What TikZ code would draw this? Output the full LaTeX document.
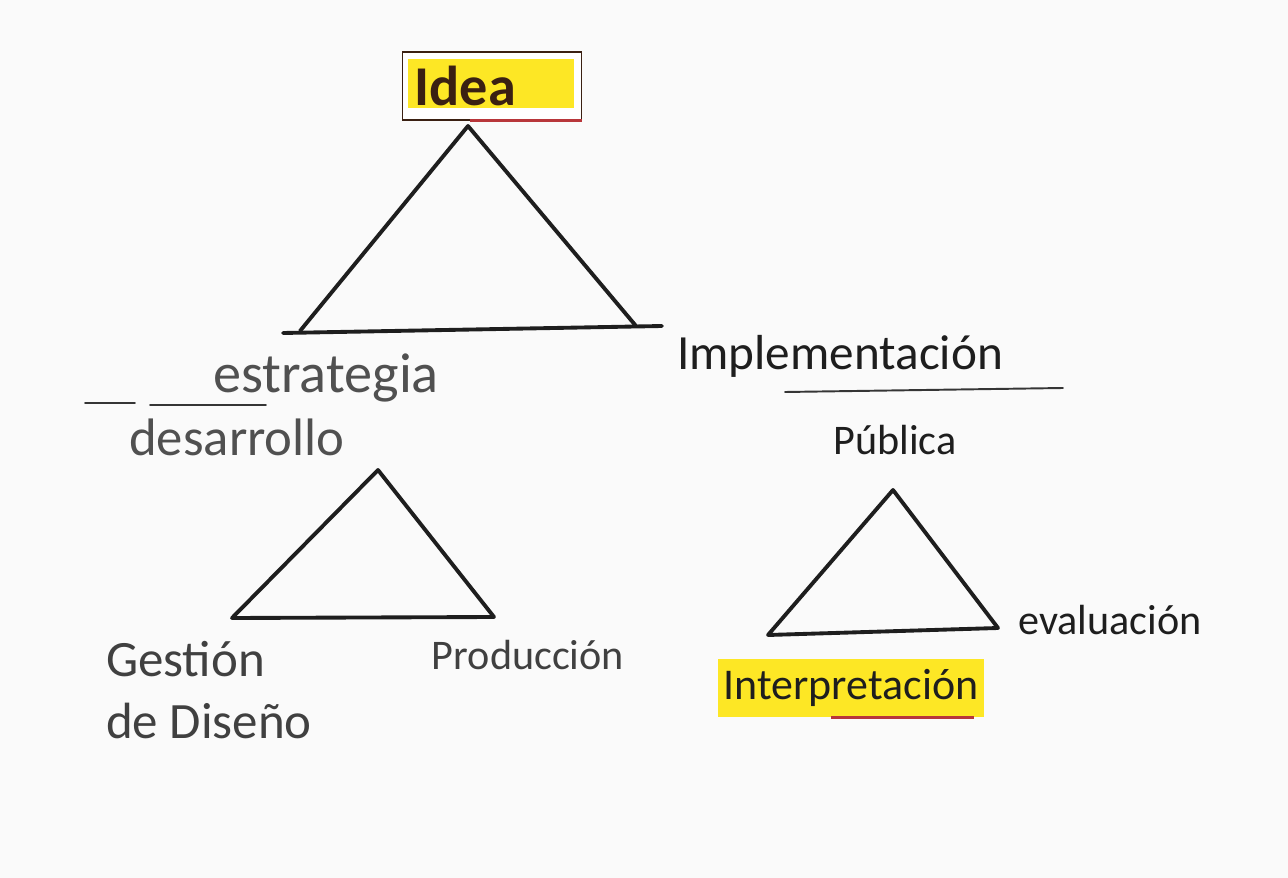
\documentclass[tikz,border=0pt]{standalone}
\usepackage{fontspec}
\setmainfont{Carlito}
\definecolor{ink}{HTML}{505050}
\definecolor{pen}{HTML}{1E1E1E}
\definecolor{marker}{HTML}{FDE725}
\definecolor{redpen}{HTML}{B8363A}
\definecolor{brownink}{HTML}{3A2012}
\newcommand{\sz}[1]{\fontsize{#1}{#1}\selectfont}
\begin{document}
\begin{tikzpicture}[x=0.02cm, y=-0.02cm,
    word/.style={text=ink, font=\sz{28}, inner sep=1pt},
    side/.style={draw=pen, line width=2.2pt, line cap=round, line join=round},
    rule/.style={draw=pen!90, line width=1.1pt, line cap=round},
    ideabox/.style={draw=brownink, line width=0.9pt, fill=white, minimum width=3.58cm, minimum height=1.36cm, text width=3.1cm, align=left,
        path picture={\fill[marker] ([xshift=3pt,yshift=7pt]path picture bounding box.south west) rectangle ([xshift=-4pt,yshift=-4pt]path picture bounding box.north east);}}
]
    % paper
    \fill[gray!4] (0,0) rectangle (1288,878);
    \useasboundingbox (0,0) rectangle (1288,878);

    % Top idea
    \node[ideabox, font=\sz{32}\bfseries, text=brownink] (idea) at (492,86) {Idea};
    \draw[redpen, line width=1.6pt] ([xshift=-0.45cm]idea.south) -- (idea.south east);

    % Big triangle
    \coordinate (apexA) at (468,126);
    \coordinate (leftA) at (300,331);
    \coordinate (rightA) at (636,326);
    \coordinate (baseAl) at (283,333);
    \coordinate (baseAr) at (662,326);
    \draw[side] (leftA) -- (apexA) -- (rightA);
    \draw[side] (baseAl) -- (baseAr);

    % Left branch
    \node[word, font=\sz{32}] (estr) at (326,378) {estrategia};
    \node[word, font=\sz{30}] (desa) at (237,437) {desarrollo};
    \coordinate (ruleL1) at (85,403);
    \coordinate (ruleL2) at (135,403);
    \coordinate (ruleL3) at (150,405);
    \coordinate (ruleL4) at (266,405);
    \draw[rule] (ruleL1) -- (ruleL2);
    \draw[rule] (ruleL3) -- (ruleL4);

    % Right branch
    \node[word, text=pen] (impl) at (840,356) {Implementación};
    \node[word, text=pen, font=\sz{24}] (publ) at (895,440) {Pública};
    \coordinate (ruleR1) at (785,392);
    \coordinate (ruleR2) at (1063,388);
    \draw[rule] (ruleR1) -- (ruleR2);

    % Left small triangle
    \coordinate (apexB) at (378,470);
    \coordinate (leftB) at (232,618);
    \coordinate (rightB) at (494,617);
    \draw[side] (apexB) -- (leftB) -- (rightB) -- cycle;
    \node[word, font=\sz{29}, align=left, anchor=west, text=pen!85] (gest) at (104,690) {Gestión\\[6pt]de Diseño};
    \node[word, font=\sz{24}, text=pen!85] (prod) at (528,655) {Producción};

    % Right small triangle
    \coordinate (apexC) at (893,490);
    \coordinate (leftC) at (768,635);
    \coordinate (rightC) at (998,628);
    \draw[side] (apexC) -- (leftC) -- (rightC) -- cycle;
    \node[word, font=\sz{24}, text=pen] (eval) at (1110,620) {evaluación};
    \node[word, font=\sz{25}, text=pen, fill=marker, inner xsep=3pt, inner ysep=6pt] (interp) at (851,688) {Interpretación};
    \draw[redpen, line width=1.6pt] ([xshift=-0.4cm]interp.south) -- ([xshift=-0.2cm]interp.south east);
\end{tikzpicture}
\end{document}
